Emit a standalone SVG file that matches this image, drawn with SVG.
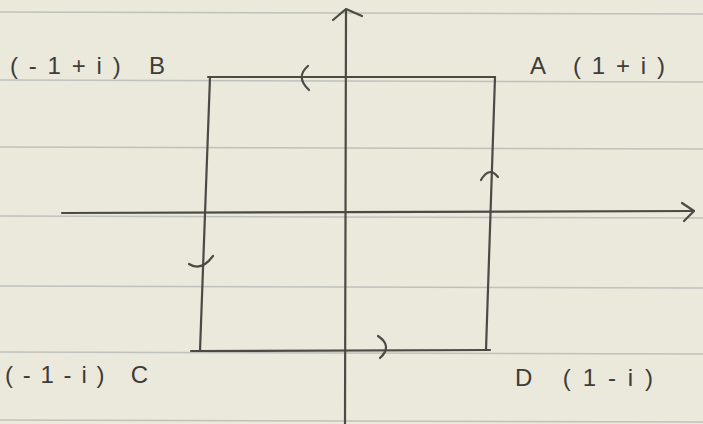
<svg xmlns="http://www.w3.org/2000/svg" width="703" height="424" viewBox="0 0 703 424">
<style>
.paper{fill:#ebe8dc}
.rule{stroke:#bfc1bd;stroke-width:1.5}
.ink{fill:none;stroke:#4b4a44;stroke-width:2.2;stroke-linecap:round;stroke-linejoin:round}
.lbl{font-family:"Liberation Sans",Arial,sans-serif;font-size:24px;fill:#3d3c38}
</style>
<rect class="paper" x="0" y="0" width="703" height="424"/>
<g id="ruling">
<line class="rule" x1="0" y1="12" x2="703" y2="14"/>
<line class="rule" x1="0" y1="80" x2="703" y2="82"/>
<line class="rule" x1="0" y1="147" x2="703" y2="149"/>
<line class="rule" x1="0" y1="216" x2="703" y2="218"/>
<line class="rule" x1="0" y1="286" x2="703" y2="288"/>
<line class="rule" x1="0" y1="352" x2="703" y2="354"/>
<line class="rule" x1="0" y1="420" x2="703" y2="422"/>
</g>
<g id="connectors">
<g id="axes">
<path class="ink" d="M346 10 L345 424"/>
<path class="ink" d="M333 20 L346 9 L362 16"/>
<path class="ink" d="M62 213 L694 211"/>
<path class="ink" d="M682 203 L694 211 L684 221"/>
</g>
<g id="contour">
<path class="ink" d="M208 77 L495 77"/>
<path class="ink" d="M495 77 L486 350"/>
<path class="ink" d="M490 350 L191 351"/>
<path class="ink" d="M210 77 L200 351"/>
<path class="ink" d="M308 66 Q295 77 309 90"/>
<path class="ink" d="M481 180 Q489 166 498 177"/>
<path class="ink" d="M189 264 Q201 272 213 256"/>
<path class="ink" d="M378 336 Q393 346 380 358"/>
</g>
</g>
<g id="node-B"><text class="lbl" x="10" y="74" textLength="155" lengthAdjust="spacing">(-1+i) B</text></g>
<g id="node-A"><text class="lbl" x="530" y="74" textLength="135" lengthAdjust="spacing">A (1+i)</text></g>
<g id="node-C"><text class="lbl" x="5" y="383" textLength="143" lengthAdjust="spacing">(-1-i) C</text></g>
<g id="node-D"><text class="lbl" x="515" y="386" textLength="138" lengthAdjust="spacing">D (1-i)</text></g>
</svg>
